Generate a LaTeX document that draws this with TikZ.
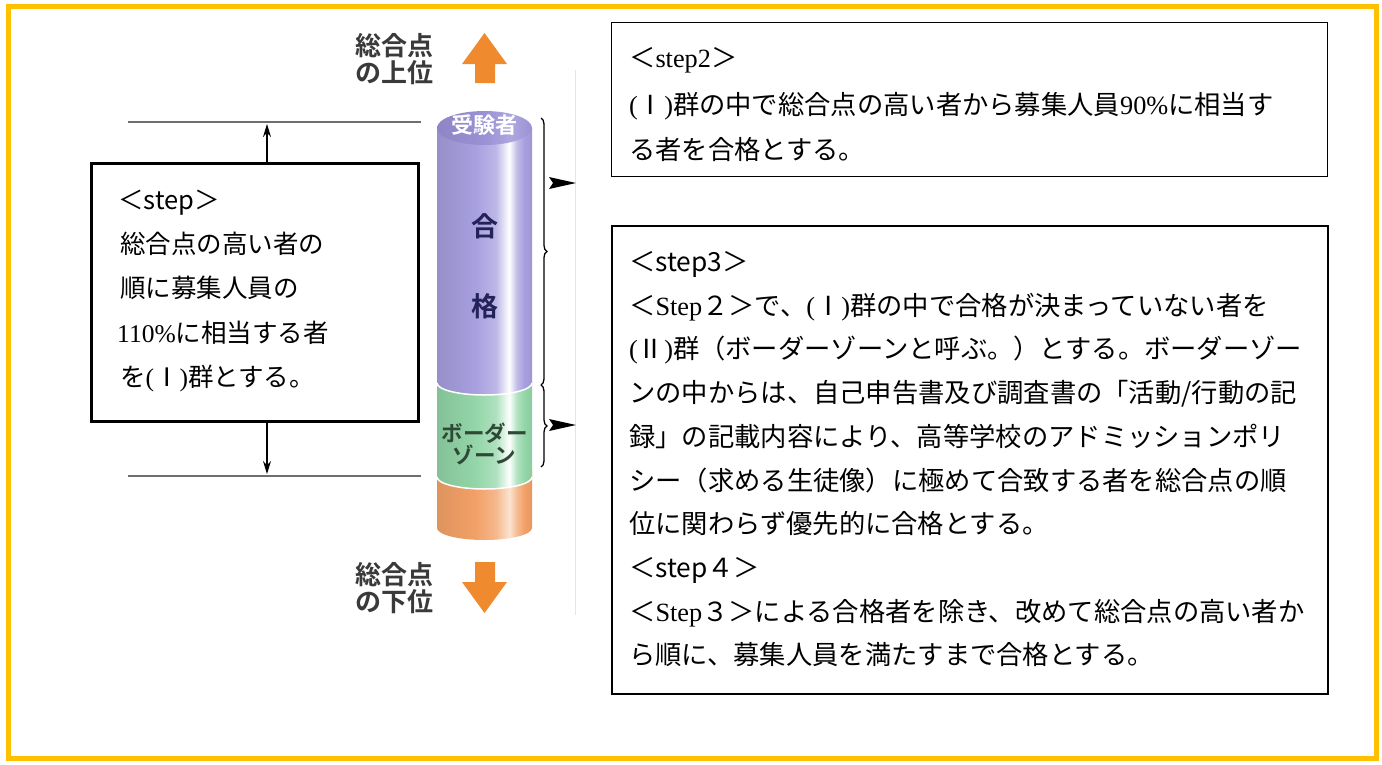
\documentclass[tikz,border=0pt]{standalone}
\usepackage{fontspec}
\setmainfont{Noto Sans CJK JP}[BoldFont={Noto Sans CJK JP Bold}]
\newfontfamily\rmlat{Liberation Serif}
\usetikzlibrary{decorations.pathreplacing,arrows.meta}

\definecolor{frameY}{HTML}{FFC000}
\definecolor{cylP}{HTML}{A79FDF}
\definecolor{cylPtop}{HTML}{9A91D6}
\definecolor{cylG}{HTML}{93D6A8}
\definecolor{cylO}{HTML}{F2A066}
\definecolor{arrO}{HTML}{F08A2E}
\definecolor{labelgray}{HTML}{3A3A3A}
\definecolor{navyT}{HTML}{23235A}
\definecolor{dgreen}{HTML}{2E4A36}
\definecolor{rulegray}{HTML}{6E6E6E}

% cylinder shadings: darker left, white highlight near the right edge
\pgfdeclarehorizontalshading{shP}{100bp}{color(0bp)=(cylP!90!black); color(25bp)=(cylP!90!black);
  color(45bp)=(cylP); color(56bp)=(cylP!75!white); color(63bp)=(white); color(67bp)=(cylP!70!white);
  color(71bp)=(cylP); color(75bp)=(cylP!95!black); color(100bp)=(cylP!95!black)}
\pgfdeclarehorizontalshading{shG}{100bp}{color(0bp)=(cylG!90!black); color(25bp)=(cylG!90!black);
  color(45bp)=(cylG); color(56bp)=(cylG!75!white); color(63bp)=(white); color(67bp)=(cylG!70!white);
  color(71bp)=(cylG); color(75bp)=(cylG!95!black); color(100bp)=(cylG!95!black)}
\pgfdeclarehorizontalshading{shO}{100bp}{color(0bp)=(cylO!92!black); color(25bp)=(cylO!92!black);
  color(45bp)=(cylO); color(56bp)=(cylO!75!white); color(63bp)=(cylO!30!white); color(67bp)=(cylO!70!white);
  color(71bp)=(cylO); color(75bp)=(cylO!95!black); color(100bp)=(cylO!95!black)}
\pgfdeclarehorizontalshading{shCap}{100bp}{color(0bp)=(cylPtop!92!black); color(25bp)=(cylPtop!92!black);
  color(50bp)=(cylPtop); color(64bp)=(cylPtop!80!white); color(75bp)=(cylPtop); color(100bp)=(cylPtop)}

\tikzset{
  txtbig/.style={font=\fontsize{26.3}{30}\selectfont, inner sep=0pt, anchor=base west},
  txtleft/.style={font=\fontsize{25.5}{30}\selectfont, inner sep=0pt, anchor=base west},
  stepbox/.style={draw=black, fill=white, anchor=north west, inner sep=0pt},
  cyllabel/.style={font=\bfseries\fontsize{27}{27}\selectfont, text=navyT, inner sep=0pt},
  rankl/.style={font=\bfseries\fontsize{26}{27}\selectfont, text=labelgray, align=left, inner sep=0pt},
  dimarrow/.style={-{Stealth[length=13pt,width=8pt]}, line width=1.3pt},
  grayrule/.style={draw=rulegray, line width=2.6pt},
}

\begin{document}
\begin{tikzpicture}[x=1pt,y=-1pt]
\useasboundingbox (0,0) rectangle (1382,764);
\fill[white] (0,0) rectangle (1382,764);

% outer frame
\draw[frameY, line width=5pt] (8,6) rectangle (1376,758);

% faint guide behind the column
\draw[gray!20, line width=1pt] (575,70) -- (575,615);

% ---------- column ----------
\shade[shading=shO] (437,470) -- (437,528) arc[start angle=180,end angle=360,x radius=47.5pt,y radius=12pt] -- (532,470) -- cycle;
\shade[shading=shG] (437,383) -- (437,477) arc[start angle=180,end angle=360,x radius=47.5pt,y radius=12pt] -- (532,383) -- cycle;
\draw[white, line width=1.5pt] (437,477) arc[start angle=180,end angle=360,x radius=47.5pt,y radius=12pt];
\shade[shading=shP] (437,128) -- (437,383) arc[start angle=180,end angle=360,x radius=47.5pt,y radius=12pt] -- (532,128) -- cycle;
\draw[white, line width=1.5pt] (437,383) arc[start angle=180,end angle=360,x radius=47.5pt,y radius=12pt];
\shade[shading=shCap] (484.5,128) ellipse[x radius=47.5pt, y radius=17pt];

\node[font=\bfseries\fontsize{22}{22}\selectfont, text=white, inner sep=0pt] (juken) at (484.5,125) {受験者};
\node[cyllabel] (gou) at (484.5,226) {合};
\node[cyllabel] (kaku) at (484.5,306) {格};
\node[font=\bfseries\fontsize{21.5}{22.5}\selectfont, text=dgreen, align=center, inner sep=0pt] (border) at (484.5,444) {ボーダー\\ゾーン};

% braces and pointers
\draw[line width=1.3pt, decorate, decoration={brace, amplitude=6pt}] (541,118) -- (541,385);
\draw[line width=1.3pt, decorate, decoration={brace, amplitude=6pt}] (541,385) -- (541,467);
\fill[black] (549,177) -- (576,183) -- (549,189) -- (553,183) -- cycle;
\fill[black] (549,419) -- (576,425) -- (549,431) -- (553,425) -- cycle;

% ranking labels and orange arrows
\node[rankl, anchor=north west] (upper) at (355,33) {総合点\\の上位};
\node[rankl, anchor=north west] (lower) at (355,562) {総合点\\の下位};
\fill[arrO] (475,83) -- (475,64) -- (462,64) -- (484.5,33) -- (507,64) -- (495,64) -- (495,83) -- cycle;
\fill[arrO] (475,562) -- (475,582) -- (462,582) -- (484.5,613) -- (507,582) -- (495,582) -- (495,562) -- cycle;

% ---------- step box on the left ----------
\coordinate (ruleTL) at (128,122);
\coordinate (ruleTR) at (421,122);
\coordinate (ruleBL) at (128,476);
\coordinate (ruleBR) at (421,476);
\draw[grayrule] (ruleTL) -- (ruleTR);
\draw[grayrule] (ruleBL) -- (ruleBR);

\node[stepbox, line width=2.5pt, minimum width=327, minimum height=258] (boxL) at (90,162) {};
\coordinate (upTip) at (267,124);
\coordinate (downTip) at (267,474);
\draw[dimarrow] (upTip |- boxL.north) -- (upTip);
\draw[dimarrow] (downTip |- boxL.south) -- (downTip);

\node[txtleft] (l1) at (118,209) {＜step＞};
\node[txtleft] (l2) at (120,253) {総合点の高い者の};
\node[txtleft] (l3) at (120,297) {順に募集人員の};
\node[txtleft] (l4) at (117,342) {{\rmlat 110\%}に相当する者};
\node[txtleft] (l5) at (120,386) {を{\rmlat (}Ⅰ{\rmlat )}群とする。};

% ---------- step 2 ----------
\node[stepbox, line width=1.2pt, minimum width=716, minimum height=154] (box2) at (611,22) {};
\node[txtbig] (s2a) at (629,67) {＜{\rmlat step2}＞};
\node[txtbig] (s2b) at (629,114) {{\rmlat (}Ⅰ{\rmlat )}群の中で総合点の高い者から募集人員{\rmlat 90\%}に相当す};
\node[txtbig] (s2c) at (629,159) {る者を合格とする。};

% ---------- steps 3 and 4 ----------
\node[stepbox, line width=1.8pt, minimum width=716, minimum height=468] (box3) at (611,225) {};
\foreach \s [count=\i] in {
  {＜step3＞},
  {＜{\rmlat Step}２＞で、{\rmlat (}Ⅰ{\rmlat )}群の中で合格が決まっていない者を},
  {{\rmlat (}Ⅱ{\rmlat )}群（ボーダーゾーンと呼ぶ。）とする。ボーダーゾー},
  {ンの中からは、自己申告書及び調査書の「活動/行動の記},
  {録」の記載内容により、高等学校のアドミッションポリ},
  {シー（求める生徒像）に極めて合致する者を総合点の順},
  {位に関わらず優先的に合格とする。},
  {＜step４＞},
  {＜{\rmlat Step}３＞による合格者を除き、改めて総合点の高い者か},
  {ら順に、募集人員を満たすまで合格とする。}}
  \node[txtbig] (s3l\i) at (629,{271.5+(\i-1)*43.7}) {\s};
\end{tikzpicture}
\end{document}
